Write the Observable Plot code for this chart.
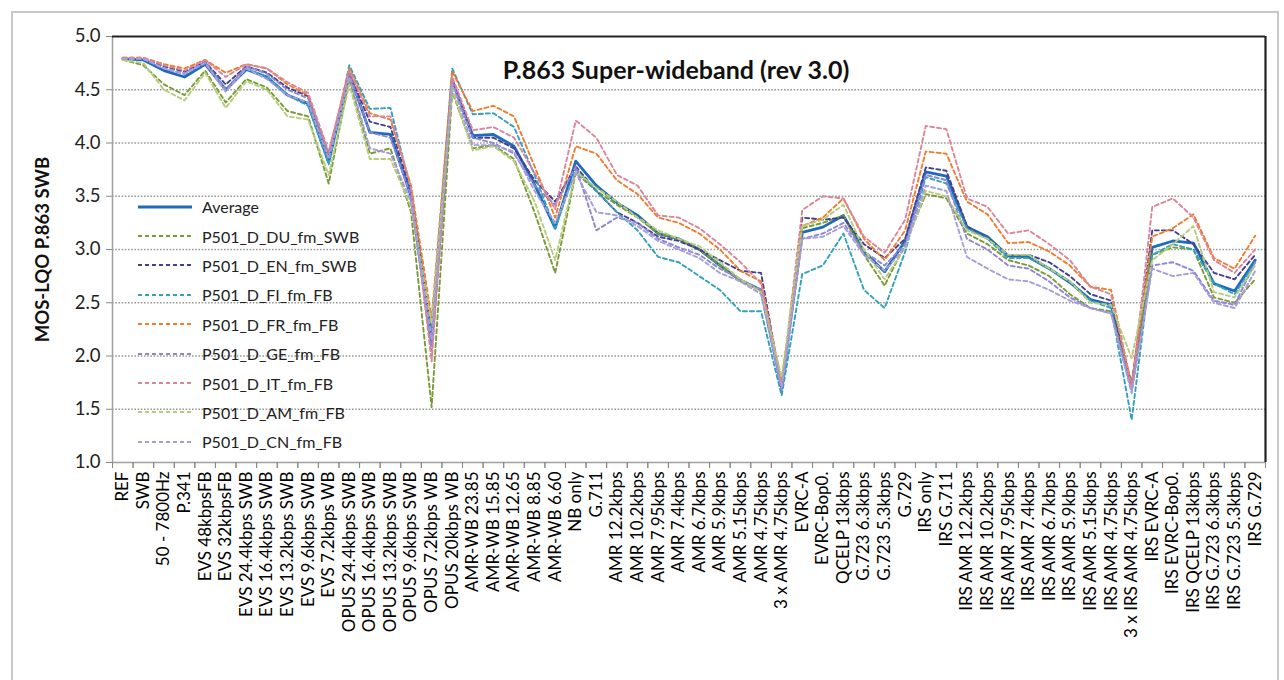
<!DOCTYPE html>
<html>
<head>
<meta charset="utf-8">
<script src="https://cdn.jsdelivr.net/npm/d3@7"></script>
<script src="https://cdn.jsdelivr.net/npm/@observablehq/plot@0.6"></script>
<style>
  html, body { margin: 0; padding: 0; background: #fff; }
  #wrap { position: relative; width: 1284px; height: 680px; overflow: hidden; font-family: Lato, "Open Sans", sans-serif; }
  #outer { position: absolute; left: 11px; top: 11px; width: 1268px; height: 700px; border: 2px solid #c8c8c8; box-sizing: border-box; pointer-events: none; }
  #legend { position: absolute; left: 138px; top: 192px; font-size: 16px; color: #222; }
  .li { height: 29.4px; display: flex; align-items: center; }
  .li svg { width: 54px; height: 10px; margin-right: 10px; }
</style>
</head>
<body>
<div id="wrap"><div id="outer"></div><div id="legend"></div></div>
<script>
const categories = ["REF","SWB","50 - 7800Hz","P.341","EVS 48kbpsFB","EVS 32kbpsFB","EVS 24.4kbps SWB","EVS 16.4kbps SWB","EVS 13.2kbps SWB","EVS 9.6kbps SWB","EVS 7.2kbps WB","OPUS 24.4kbps SWB","OPUS 16.4kbps SWB","OPUS 13.2kbps SWB","OPUS 9.6kbps SWB","OPUS 7.2kbps WB","OPUS 20kbps WB","AMR-WB 23.85","AMR-WB 15.85","AMR-WB 12.65","AMR-WB 8.85","AMR-WB 6.60","NB only","G.711","AMR 12.2kbps","AMR 10.2kbps","AMR 7.95kbps","AMR 7.4kbps","AMR 6.7kbps","AMR 5.9kbps","AMR 5.15kbps","AMR 4.75kbps","3 x AMR 4.75kbps","EVRC-A","EVRC-Bop0.","QCELP 13kbps","G.723 6.3kbps","G.723 5.3kbps","G.729","IRS only","IRS G.711","IRS AMR 12.2kbps","IRS AMR 10.2kbps","IRS AMR 7.95kbps","IRS AMR 7.4kbps","IRS AMR 6.7kbps","IRS AMR 5.9kbps","IRS AMR 5.15kbps","IRS AMR 4.75kbps","3 x IRS AMR 4.75kbps","IRS EVRC-A","IRS EVRC-Bop0.","IRS QCELP 13kbps","IRS G.723 6.3kbps","IRS G.723 5.3kbps","IRS G.729"];

const average = [4.79,4.78,4.68,4.62,4.74,4.50,4.69,4.62,4.45,4.37,3.82,4.65,4.10,4.08,3.50,2.10,4.58,4.07,4.08,3.97,3.61,3.20,3.83,3.60,3.44,3.32,3.15,3.10,3.00,2.85,2.71,2.62,1.70,3.16,3.21,3.32,2.98,2.79,3.08,3.73,3.69,3.21,3.12,2.94,2.93,2.82,2.69,2.53,2.48,1.70,3.02,3.08,3.06,2.68,2.61,2.90];
const du = [4.78,4.73,4.55,4.45,4.68,4.38,4.60,4.52,4.30,4.25,3.62,4.60,3.90,3.95,3.35,1.52,4.48,3.95,3.98,3.85,3.35,2.78,3.72,3.55,3.42,3.30,3.15,3.10,3.00,2.85,2.70,2.62,1.72,3.20,3.25,3.32,2.95,2.66,3.05,3.52,3.48,3.15,3.05,2.90,2.85,2.75,2.58,2.45,2.42,1.75,2.95,3.02,3.00,2.55,2.50,2.72];
const en = [4.79,4.79,4.72,4.67,4.76,4.55,4.72,4.66,4.52,4.44,3.88,4.66,4.20,4.15,3.55,2.20,4.60,4.05,4.05,3.95,3.65,3.45,3.78,3.55,3.35,3.25,3.12,3.08,3.00,2.90,2.80,2.78,1.70,3.30,3.28,3.30,3.05,2.92,3.10,3.77,3.74,3.22,3.10,2.95,2.95,2.88,2.75,2.58,2.52,1.72,3.18,3.18,3.05,2.78,2.72,2.95];
const fi = [4.79,4.79,4.70,4.65,4.76,4.50,4.70,4.62,4.45,4.35,3.80,4.73,4.32,4.33,3.55,2.25,4.70,4.27,4.28,4.15,3.70,3.20,3.75,3.55,3.35,3.18,2.93,2.88,2.75,2.62,2.42,2.42,1.63,2.77,2.85,3.15,2.62,2.45,2.98,3.68,3.62,3.20,3.10,2.92,2.92,2.82,2.70,2.52,2.45,1.40,2.95,3.05,3.00,2.68,2.58,2.88];
const fr = [4.80,4.80,4.74,4.70,4.78,4.66,4.74,4.70,4.55,4.45,3.90,4.70,4.28,4.22,3.60,2.35,4.67,4.30,4.35,4.25,3.78,3.30,3.97,3.90,3.65,3.52,3.30,3.25,3.15,3.00,2.80,2.70,1.75,3.22,3.30,3.48,3.10,2.90,3.18,3.92,3.90,3.45,3.33,3.06,3.07,2.98,2.85,2.65,2.62,1.72,3.12,3.20,3.33,2.92,2.82,3.13];
const ge = [4.79,4.79,4.70,4.65,4.76,4.50,4.72,4.65,4.50,4.42,3.90,4.65,4.10,4.05,3.50,2.05,4.58,4.05,4.00,3.90,3.60,3.42,3.78,3.18,3.30,3.25,3.10,3.02,2.95,2.82,2.72,2.62,1.68,3.10,3.15,3.25,2.98,2.85,3.05,3.70,3.65,3.10,3.00,2.85,2.82,2.70,2.55,2.45,2.40,1.68,2.85,2.88,2.80,2.52,2.48,2.88];
const it = [4.80,4.80,4.73,4.68,4.78,4.62,4.74,4.70,4.57,4.47,3.92,4.68,4.25,4.25,3.58,1.95,4.62,4.12,4.15,4.05,3.72,3.38,4.21,4.05,3.70,3.60,3.32,3.30,3.20,3.05,2.88,2.68,1.72,3.37,3.50,3.48,3.12,2.97,3.28,4.16,4.13,3.48,3.40,3.15,3.18,3.05,2.90,2.65,2.58,1.70,3.40,3.48,3.30,2.90,2.78,3.00];
const am = [4.78,4.75,4.50,4.40,4.66,4.33,4.58,4.50,4.25,4.22,3.70,4.55,3.85,3.85,3.40,2.30,4.50,3.93,3.97,3.83,3.45,2.90,3.73,3.58,3.45,3.30,3.18,3.10,3.03,2.88,2.72,2.60,1.80,3.22,3.28,3.42,3.00,2.72,3.02,3.55,3.50,3.18,3.10,2.95,2.95,2.82,2.70,2.50,2.48,1.98,2.90,3.05,3.22,2.60,2.55,2.85];
const cn = [4.79,4.79,4.70,4.65,4.75,4.48,4.70,4.60,4.45,4.38,3.85,4.62,3.95,3.90,3.45,2.15,4.55,3.98,3.98,3.92,3.55,3.25,3.72,3.35,3.32,3.22,3.08,3.00,2.92,2.78,2.70,2.58,1.70,3.10,3.12,3.22,2.95,2.80,3.02,3.60,3.55,2.93,2.82,2.72,2.70,2.62,2.52,2.45,2.40,1.65,2.82,2.75,2.78,2.50,2.45,2.80];

const seriesNames = ["P501_D_DU_fm_SWB","P501_D_EN_fm_SWB","P501_D_FI_fm_FB","P501_D_FR_fm_FB","P501_D_GE_fm_FB","P501_D_IT_fm_FB","P501_D_AM_fm_FB","P501_D_CN_fm_FB"];
const seriesValues = [du, en, fi, fr, ge, it, am, cn];
const seriesColors = ["#7a9a36","#463e8e","#33a0bc","#ef7d2f","#8c86d4","#dc8598","#b5cd7a","#a69ddb"];
const avgColor = "#1f6bbb";
const yTicks = [1.0,1.5,2.0,2.5,3.0,3.5,4.0,4.5,5.0];
const gridTicks = [1.5,2.0,2.5,3.0,3.5,4.0,4.5];

const avgRows = categories.map((c, i) => ({cat: c, v: average[i]}));
const dashRows = [];
seriesNames.forEach((s, k) => categories.forEach((c, i) => dashRows.push({series: s, cat: c, v: seriesValues[k][i]})));

const W = 1284, H = 680, mL = 112, mR = 19, mT = 36, mB = 218;
const step = (W - mL - mR) / categories.length;
const font = "Lato, 'Open Sans', sans-serif";

const chart = Plot.plot({
  width: W, height: H,
  marginLeft: mL, marginRight: mR, marginTop: mT, marginBottom: mB,
  style: {fontFamily: font, background: "transparent", overflow: "visible"},
  x: {type: "point", domain: categories, padding: 0.5},
  y: {domain: [1, 5]},
  color: {domain: seriesNames, range: seriesColors},
  marks: [
    Plot.ruleY(gridTicks, {stroke: "#9a9a9a", strokeWidth: 1.6, strokeDasharray: "1.6,1.6"}),
    Plot.ruleY([1], {stroke: "#a0a0a0", strokeWidth: 1.5}),
    Plot.ruleX([categories[0]], {y1: 1, y2: 5, dx: -step / 2, stroke: "#a0a0a0", strokeWidth: 1.5}),
    Plot.ruleY([5], {stroke: "#222", strokeWidth: 2.2}),
    Plot.ruleX([categories[categories.length - 1]], {y1: 1, y2: 5, dx: step / 2, stroke: "#222", strokeWidth: 2.2}),
    Plot.axisX({tickSize: 6, text: null, dx: -step / 2, stroke: "#888", label: null}),
    Plot.axisX({tickSize: 6, text: null, dx: step / 2, stroke: "#888", label: null}),
    Plot.axisX({tickSize: 0, tickRotate: -90, tickPadding: 9, fontSize: 17, fill: "#000", label: null}),
    Plot.axisY({ticks: yTicks, tickFormat: d => d.toFixed(1), tickSize: 6, tickPadding: 6, fontSize: 18.5, stroke: "#888", fill: "#222", label: null}),
    Plot.text(["MOS-LQO P.863 SWB"], {frameAnchor: "left", rotate: -90, textAnchor: "middle", dx: -69, fontSize: 18.5, fontWeight: "bold", fill: "#111"}),
    Plot.text(["P.863 Super-wideband (rev 3.0)"], {frameAnchor: "top", dx: -13, dy: 25, fontSize: 25, fontWeight: "bold", fill: "#111"}),
    Plot.line(avgRows, {x: "cat", y: "v", stroke: avgColor, strokeWidth: 2.8}),
    Plot.line(dashRows, {x: "cat", y: "v", z: "series", stroke: "series", strokeWidth: 1.9, strokeDasharray: "4,3"})
  ]
});
const wrap = document.getElementById("wrap");
wrap.insertBefore(chart, wrap.firstChild);

const legend = document.getElementById("legend");
const entries = [{name: "Average", color: avgColor, dash: null, w: 3}].concat(seriesNames.map((n, i) => ({name: n, color: seriesColors[i], dash: "4,3", w: 2})));
entries.forEach(e => {
  const row = document.createElement("div");
  row.className = "li";
  row.innerHTML = `<svg viewBox="0 0 54 10"><line x1="0" y1="5" x2="54" y2="5" stroke="${e.color}" stroke-width="${e.w}" ${e.dash ? `stroke-dasharray="${e.dash}"` : ""}/></svg><span>${e.name}</span>`;
  legend.appendChild(row);
});
</script>
</body>
</html>
